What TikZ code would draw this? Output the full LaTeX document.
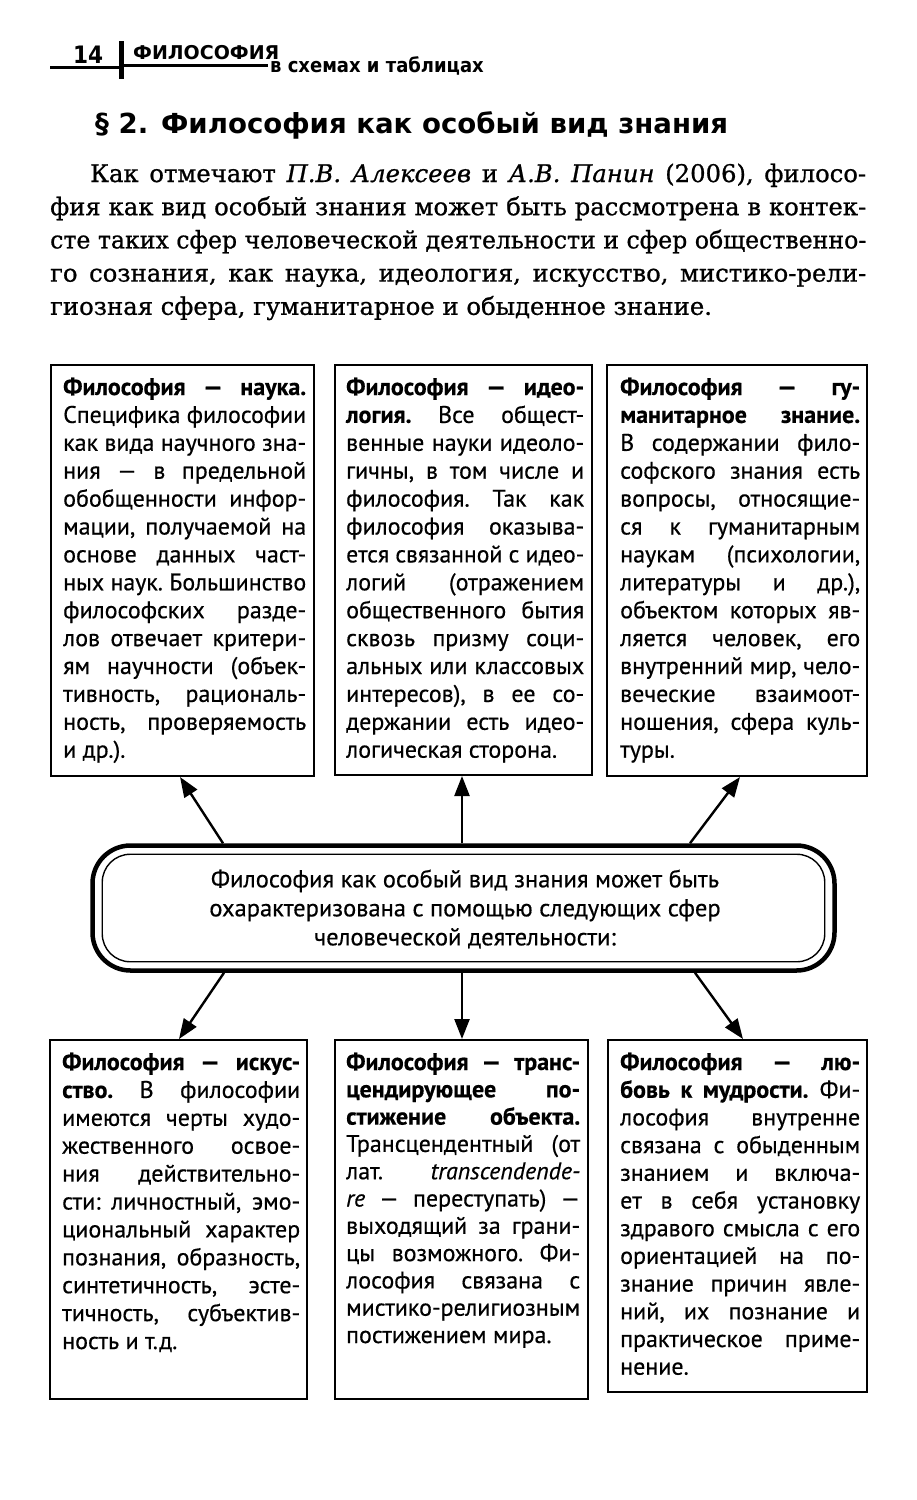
\documentclass[tikz,border=0pt]{standalone}
\usepackage{fontspec}
\usepackage{graphicx}
\usetikzlibrary{arrows.meta,calc}
\newfontfamily\parfont{DejaVu Serif}[FakeBold=0.8]
\newfontfamily\boxfont{PT Sans}[FakeBold=0.5]
\newfontfamily\headfont{DejaVu Sans}
\newfontfamily\condfont{DejaVu Sans Condensed}
\newsavebox\linebox
\newcommand\myjl[1]{\sbox\linebox{#1}\ifdim\wd\linebox>\linewidth
  \hbox to\linewidth{\resizebox{\linewidth}{\height}{\usebox\linebox}}\else
  \hbox to\linewidth{#1}\fi}
\newcommand\mylast[1]{\hbox to\linewidth{#1\hfil}}
\newcommand\boxtext[2]{\begin{minipage}[t]{#1}\boxfont\fontsize{24}{27.9}\selectfont\frenchspacing #2\end{minipage}}
\tikzset{
  frame/.style={draw, line width=2pt, inner sep=0pt},
  txt/.style={inner sep=0pt, anchor=base west},
  arr/.style={line width=2.4pt, -{Triangle[length=20pt,width=15pt]}},
}
\begin{document}
\begin{tikzpicture}[x=1pt,y=-1pt]
\useasboundingbox (0,0) rectangle (917,1500);
\fill[white] (0,0) rectangle (917,1500);

% header
\node[txt, font=\condfont\bfseries\fontsize{24}{24}\selectfont] (pg) at (73,63) {14};
\draw[line width=2.8pt] (50,67.5) -- (122,67.5);
\draw[line width=5pt] (121,41) -- (121,79);
\node[txt, font=\headfont\bfseries\fontsize{19}{19}\selectfont] (hd) at (133,59) {ФИЛОСОФИЯ};
\draw[line width=3pt] (121,65) -- (268,65);
\node[txt, font=\condfont\bfseries\fontsize{20}{20}\selectfont] (hs) at (270,72) {в схемах и таблицах};

% title
\node[txt, font=\headfont\bfseries\fontsize{27.6}{27.6}\selectfont] (title) at (95,133) {§ 2. Философия как особый вид знания};

% paragraph
\node[txt] (par) at (50,182) {\begin{minipage}[t]{816pt}\parfont\fontsize{24.3}{33.2}\selectfont\frenchspacing
\myjl{\hskip 40pt Как отмечают \textit{П.В. Алексеев} и \textit{А.В. Панин} (2006), филосо-}
\myjl{фия как вид особый знания может быть рассмотрена в контек-}
\myjl{сте таких сфер человеческой деятельности и сфер общественно-}
\myjl{го сознания, как наука, идеология, искусство, мистико-рели-}
\mylast{гиозная сфера, гуманитарное и обыденное знание.}
\end{minipage}};

% frames
\node[frame, minimum width=263pt, minimum height=411pt] (b1) at (182.5,570.5) {};
\node[frame, minimum width=257pt, minimum height=410pt] (b2) at (463.5,570) {};
\node[frame, minimum width=260pt, minimum height=411pt] (b3) at (737,570.5) {};
\node[frame, minimum width=257pt, minimum height=359pt] (b4) at (178.5,1219.5) {};
\node[frame, minimum width=253pt, minimum height=359pt] (b5) at (461.5,1219.5) {};
\node[frame, minimum width=259pt, minimum height=352pt] (b6) at (737.5,1216) {};

% texts
\node[txt] (t1) at (63,395) {\boxtext{243pt}{%
\myjl{\textbf{Философия — наука.}}
\myjl{Специфика философии}
\myjl{как вида научного зна-}
\myjl{ния — в предельной}
\myjl{обобщенности инфор-}
\myjl{мации, получаемой на}
\myjl{основе данных част-}
\myjl{ных наук. Большинство}
\myjl{философских разде-}
\myjl{лов отвечает критери-}
\myjl{ям научности (объек-}
\myjl{тивность, рациональ-}
\myjl{ность, проверяемость}
\mylast{и др.).}}};

\node[txt] (t2) at (346,395) {\boxtext{238pt}{%
\myjl{\textbf{Философия — идео-}}
\myjl{\textbf{логия.} Все общест-}
\myjl{венные науки идеоло-}
\myjl{гичны, в том числе и}
\myjl{философия. Так как}
\myjl{философия оказыва-}
\myjl{ется связанной с идео-}
\myjl{логий (отражением}
\myjl{общественного бытия}
\myjl{сквозь призму соци-}
\myjl{альных или классовых}
\myjl{интересов), в ее со-}
\myjl{держании есть идео-}
\mylast{логическая сторона.}}};

\node[txt] (t3) at (620,395) {\boxtext{240pt}{%
\myjl{\textbf{Философия — гу-}}
\myjl{\textbf{манитарное знание.}}
\myjl{В содержании фило-}
\myjl{софского знания есть}
\myjl{вопросы, относящие-}
\myjl{ся к гуманитарным}
\myjl{наукам (психологии,}
\myjl{литературы и др.),}
\myjl{объектом которых яв-}
\myjl{ляется человек, его}
\myjl{внутренний мир, чело-}
\myjl{веческие взаимоот-}
\myjl{ношения, сфера куль-}
\mylast{туры.}}};

\node[txt] (t4) at (62,1070) {\boxtext{238pt}{%
\myjl{\textbf{Философия — искус-}}
\myjl{\textbf{ство.} В философии}
\myjl{имеются черты худо-}
\myjl{жественного освое-}
\myjl{ния действительно-}
\myjl{сти: личностный, эмо-}
\myjl{циональный характер}
\myjl{познания, образность,}
\myjl{синтетичность, эсте-}
\myjl{тичность, субъектив-}
\mylast{ность и т.д.}}};

\node[txt] (t5) at (346,1070) {\boxtext{234pt}{\fontsize{24}{27.3}\selectfont
\myjl{\textbf{Философия — транс-}}
\myjl{\textbf{цендирующее по-}}
\myjl{\textbf{стижение объекта.}}
\myjl{Трансцендентный (от}
\myjl{лат. \textit{transcendende-}}
\myjl{\textit{re} — переступать) —}
\myjl{выходящий за грани-}
\myjl{цы возможного. Фи-}
\myjl{лософия связана с}
\myjl{мистико-религиозным}
\mylast{постижением мира.}}};

\node[txt] (t6) at (620,1070) {\boxtext{240pt}{\fontsize{24}{27.7}\selectfont
\myjl{\textbf{Философия — лю-}}
\myjl{\textbf{бовь к мудрости.} Фи-}
\myjl{лософия внутренне}
\myjl{связана с обыденным}
\myjl{знанием и включа-}
\myjl{ет в себя установку}
\myjl{здравого смысла с его}
\myjl{ориентацией на по-}
\myjl{знание причин явле-}
\myjl{ний, их познание и}
\myjl{практическое приме-}
\mylast{нение.}}};

% centre
\node[draw, line width=4.5pt, rounded corners=38pt, minimum width=742pt, minimum height=125pt, inner sep=0pt] (c) at (463.5,908) {};
\draw[line width=1.4pt, rounded corners=28pt] ([shift={(12pt,-11pt)}]c.north west) rectangle ([shift={(-12pt,11pt)}]c.south east);
\node[inner sep=0pt, align=center, font=\boxfont\fontsize{24.5}{29}\selectfont] (ct) at (465,909) {Философия как особый вид знания может быть\\охарактеризована с помощью следующих сфер\\человеческой деятельности:};

% arrows
\draw[arr] ([xshift=-240.5pt]c.north) -- ([xshift=-2.5pt]b1.south);
\draw[arr] ([xshift=-1.5pt]c.north) -- ([xshift=-1.5pt]b2.south);
\draw[arr] ([xshift=226.5pt]c.north) -- ([xshift=3pt]b3.south);
\draw[arr] ([xshift=-239.5pt]c.south) -- ([xshift=0.5pt]b4.north);
\draw[arr] ([xshift=-1.5pt]c.south) -- ([xshift=0.5pt]b5.north);
\draw[arr] ([xshift=231.5pt]c.south) -- ([xshift=5.5pt]b6.north);
\end{tikzpicture}
\end{document}
